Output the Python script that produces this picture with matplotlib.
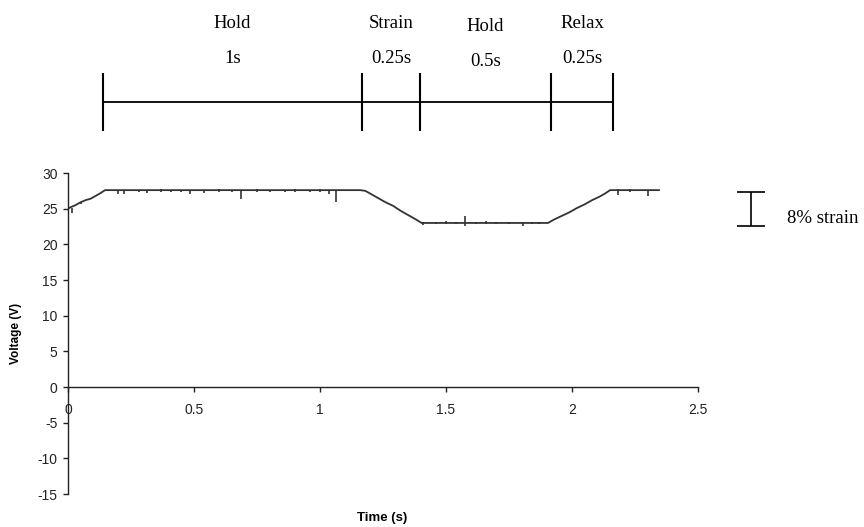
import numpy as np
import matplotlib.pyplot as plt

plt.rcParams['font.family'] = ['Liberation Sans', 'DejaVu Sans']
plt.rcParams['axes.unicode_minus'] = False

# voltage trace, main shape (s, V)
trace_t = [0.0, 0.01, 0.03, 0.05, 0.07, 0.09, 0.11, 0.13, 0.147,
           1.159, 1.18, 1.20, 1.23, 1.26, 1.29, 1.32, 1.35, 1.38, 1.403,
           1.905, 1.93, 1.96, 1.99, 2.02, 2.05, 2.08, 2.11, 2.13, 2.151, 2.345]
trace_v = [25.0, 25.2, 25.5, 25.9, 26.2, 26.4, 26.8, 27.2, 27.6,
           27.6, 27.5, 27.1, 26.5, 25.9, 25.4, 24.7, 24.1, 23.5, 23.0,
           23.0, 23.5, 24.0, 24.5, 25.1, 25.6, 26.2, 26.7, 27.1, 27.6, 27.6]

# noise spikes on the trace (time, low end, high end)
spike_t = [0.014, 0.05, 0.2, 0.222, 0.28, 0.313, 0.37, 0.41, 0.45, 0.484, 0.54,
           0.60, 0.65, 0.686, 0.75, 0.80, 0.86, 0.90, 0.96, 1.00, 1.037, 1.063,
           1.41, 1.46, 1.50, 1.54, 1.575, 1.62, 1.66, 1.70, 1.75, 1.806, 1.84, 1.87,
           2.183, 2.23, 2.30]
spike_lo = [24.4, 25.6, 27.0, 27.0, 27.3, 27.2, 27.3, 27.3, 27.3, 27.1, 27.2,
            27.3, 27.3, 26.3, 27.3, 27.4, 27.3, 27.3, 27.3, 27.4, 27.1, 26.0,
            22.7, 22.8, 22.8, 22.8, 22.6, 22.8, 22.8, 22.8, 22.8, 22.6, 22.8, 22.8,
            26.9, 27.4, 26.8]
spike_hi = [25.1, 26.0, 27.6, 27.6, 27.6, 27.6, 27.7, 27.6, 27.6, 27.6, 27.6,
            27.7, 27.6, 27.6, 27.7, 27.6, 27.6, 27.7, 27.6, 27.7, 27.6, 27.6,
            23.2, 23.2, 23.3, 23.2, 24.0, 23.2, 23.3, 23.2, 23.2, 23.0, 23.2, 23.2,
            27.7, 27.7, 27.6]

# protocol timeline above the plot
phase_edges = [0.139, 1.167, 1.397, 1.917, 2.163]
phase_names = ['Hold', 'Strain', 'Hold', 'Relax']
phase_durs = ['1s', '0.25s', '0.5s', '0.25s']

fig = plt.figure(figsize=(8.64, 5.27), dpi=100)
ax = fig.add_axes([0.0787, 0.0626, 0.7292, 0.6091])

ax.plot(trace_t, trace_v, color='#333333', lw=1.3)
ax.vlines(spike_t, spike_lo, spike_hi, color='#333333', lw=1.2)

ax.set_xlim(0, 2.5)
ax.set_ylim(-15, 30)
ax.set_xticks([0, 0.5, 1, 1.5, 2, 2.5])
ax.set_xticklabels(['0', '0.5', '1', '1.5', '2', '2.5'])
ax.set_yticks(np.arange(-15, 31, 5))

ax.spines['top'].set_visible(False)
ax.spines['right'].set_visible(False)
ax.spines['bottom'].set_position(('data', 0))
for s in ['left', 'bottom']:
    ax.spines[s].set_linewidth(1.0)
    ax.spines[s].set_color('#222222')
ax.tick_params(axis='both', direction='out', length=3.5, width=1.0,
               labelsize=10, colors='#222222')
ax.tick_params(axis='x', pad=8)
ax.tick_params(axis='y', pad=4)

ax.text(-0.0825, 0.5, 'Voltage (V)', transform=ax.transAxes, rotation=90,
        ha='center', va='center', fontsize=8.5, fontweight='bold')
ax.text(0.498, -0.075, 'Time (s)', transform=ax.transAxes,
        ha='center', va='center', fontsize=9.5, fontweight='bold')

# timeline
serif = ['Liberation Serif', 'DejaVu Serif']
ax.plot([phase_edges[0], phase_edges[-1]], [40, 40], color='black', lw=1.3, clip_on=False)
ax.vlines(phase_edges, 35.9, 44.0, color='black', lw=1.5, clip_on=False)
for i in range(len(phase_names)):
    xc = (phase_edges[i] + phase_edges[i + 1]) / 2
    dy = -0.4 if i == 2 else 0
    ax.text(xc, 50.3 + dy, phase_names[i], ha='center', va='baseline',
            fontsize=13.5, family=serif, clip_on=False)
    ax.text(xc, 45.4 + dy, phase_durs[i], ha='center', va='baseline',
            fontsize=13.5, family=serif, clip_on=False)

# 8% strain scale bar
ax.vlines(2.71, 22.61, 27.38, color='black', lw=1.2, clip_on=False)
ax.hlines([22.61, 27.38], 2.655, 2.765, color='black', lw=1.2, clip_on=False)
ax.text(2.853, 23.0, '8% strain', ha='left', va='baseline', fontsize=13.5,
        family=serif, clip_on=False)

fig.savefig('out.png', dpi=100)
